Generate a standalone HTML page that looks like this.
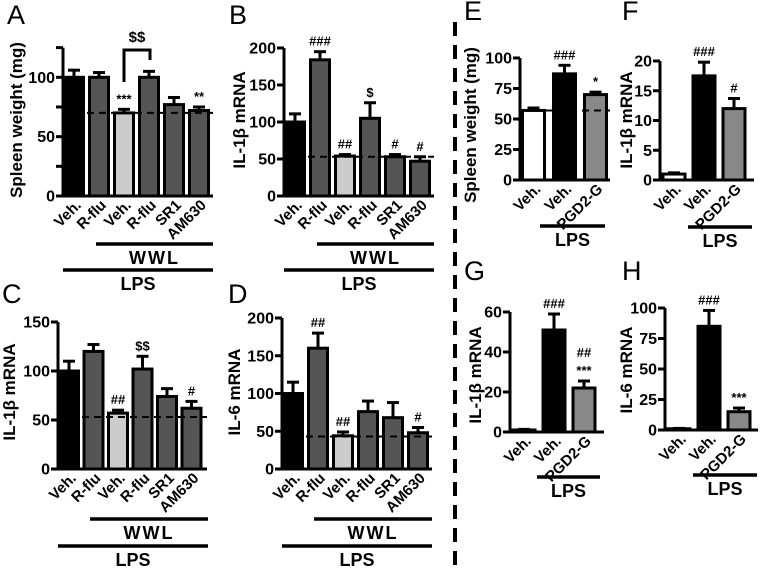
<!DOCTYPE html>
<html><head><meta charset="utf-8"><style>
html,body{margin:0;padding:0;background:#fff;}
svg{display:block;}
svg text{font-family:"Liberation Sans",Arial,sans-serif;}
.b{font-weight:bold;}
</style></head><body>
<svg id="fig" width="765" height="568" viewBox="0 0 765 568" xmlns="http://www.w3.org/2000/svg">
<line x1="455" y1="22" x2="455" y2="568" stroke="#000" stroke-width="4" stroke-dasharray="14,9"/>
</svg>
<script>
// ---- data ----
const abcdCategories = ["Veh.", "R-flu", "Veh.", "R-flu", "SR1", "AM630"];
const efghCategories = ["Veh.", "Veh.", "PGD2-G"];
const aMeans = [100, 100, 70, 100, 77, 72];
const aErrors = [6, 4, 3, 5, 6, 3];
const aTicks = [0, 50, 100];
const aMinorTicks = [25, 75, 125];
const aNotes = ["", "", "***", "", "", "**"];
const bMeans = [100, 184, 54, 105, 53, 47];
const bErrors = [11, 11, 2, 21, 3, 6];
const bTicks = [0, 50, 100, 150, 200];
const bNotes = ["", "###", "##", "$", "#", "#"];
const cMeans = [100, 120, 57, 102, 74, 62];
const cErrors = [10, 7, 3, 13, 8, 7];
const cTicks = [0, 50, 100, 150];
const cNotes = ["", "", "##", "$$", "", "#"];
const dMeans = [100, 160, 44, 76, 68, 48];
const dErrors = [15, 20, 5, 14, 20, 7];
const dTicks = [0, 50, 100, 150, 200];
const dNotes = ["", "##", "##", "", "", "#"];
const eMeans = [57, 87, 70];
const eErrors = [2, 7, 2];
const eTicks = [0, 25, 50, 75, 100];
const eNotes = ["", "###", "*"];
const fMeans = [1, 17.5, 12];
const fErrors = [0.2, 2.3, 1.7];
const fTicks = [0, 5, 10, 15, 20];
const fNotes = ["", "###", "#"];
const gMeans = [1, 51, 22];
const gErrors = [0.3, 8, 3.5];
const gTicks = [0, 20, 40, 60];
const gNotes = ["", "###", "##\n***"];
const hMeans = [1, 85, 15];
const hErrors = [0.3, 13, 3];
const hTicks = [0, 25, 50, 75, 100];
const hNotes = ["", "###", "***"];

const svg = document.getElementById('fig');
const NS = 'http://www.w3.org/2000/svg';
const FONT = '"Liberation Sans", Arial, sans-serif';
function mk(tag, attrs, parent) {
  const el = document.createElementNS(NS, tag);
  for (const k in attrs) el.setAttribute(k, attrs[k]);
  if (tag === 'text') el.setAttribute('font-family', FONT);
  (parent || svg).appendChild(el);
  return el;
}
const darkFill = ['#000', '#555', '#ccc', '#555', '#555', '#555'];
const efFill = ['#fff', '#000', '#888'];

function panel(p) {
  const g = mk('g', {});
  
  
  const y = v => p.y0 - (v / p.max) * (p.y0 - p.yTop);
  const L = mk('text', {x: p.lx, y: p.ly, 'font-size': 27}, g);
  L.textContent = p.id.toUpperCase();
  
  
  const yl = mk('text', {x: p.ylx, y: p.yly, 'font-size': 17, 'font-weight': 'bold', 'text-anchor': 'middle', transform: `rotate(-90 ${p.ylx} ${p.yly})`}, g);
  yl.textContent = p.ylabel;
  
  
  p.means.forEach((m, i) => {
    const left = p.x0 + p.off + i * p.pitch;
    const cx = left + p.bw / 2;
    const top = y(m);
    const et = y(m + p.errs[i]);
    const el = mk('line', {x1: cx, y1: top, x2: cx, y2: et, stroke: '#000', 'stroke-width': 3}, g);
    
    
    mk('line', {x1: cx - 6, y1: et, x2: cx + 6, y2: et, stroke: '#000', 'stroke-width': 3}, g);
    const r = mk('rect', {x: left, y: top, width: p.bw, height: p.y0 - top, fill: p.fills[i], stroke: '#000', 'stroke-width': 3}, g);
    
    
    const xl = mk('text', {x: cx + 8, y: p.y0 + 10, 'font-size': 15, 'font-weight': 'bold', 'text-anchor': 'end', transform: `rotate(-45 ${cx + 8} ${p.y0 + 10})`}, g);
    xl.textContent = p.cats[i];
    
    
    if (p.notes[i]) {
      const lines = p.notes[i].split('\n');
      lines.forEach((s, k) => {
        const t = mk('text', {x: cx, y: et - 6 - (lines.length - 1 - k) * 18, 'font-size': 13, 'font-weight': 'bold', 'text-anchor': 'middle'}, g);
        t.textContent = s;
        
        
      });
    }
  });
  if (p.dash !== undefined) {
    const d = mk('line', {x1: p.x0 + (p.dashStart || 0), y1: y(p.dash), x2: p.xEnd, y2: y(p.dash), stroke: '#000', 'stroke-width': 2, 'stroke-dasharray': '7,5'}, g);
    
    
  }
  const ya = mk('line', {x1: p.x0, y1: p.yAxisTop !== undefined ? y(p.yAxisTop) : p.yTop, x2: p.x0, y2: p.y0 + 1.5, stroke: '#000', 'stroke-width': 3}, g);
  
  
  const xa = mk('line', {x1: p.x0 - 1.5, y1: p.y0, x2: p.xEnd, y2: p.y0, stroke: '#000', 'stroke-width': 3}, g);
  
  
  p.ticks.forEach(v => {
    mk('line', {x1: p.x0 - 7, y1: y(v), x2: p.x0, y2: y(v), stroke: '#000', 'stroke-width': 3}, g);
    const t = mk('text', {x: p.x0 - 8, y: y(v) + 5.5, 'font-size': 16, 'font-weight': 'bold', 'text-anchor': 'end'}, g);
    t.textContent = v;
    
    
  });
  (p.minor || []).forEach(v => {
    mk('line', {x1: p.x0 - 7, y1: y(v), x2: p.x0, y2: y(v), stroke: '#000', 'stroke-width': 3}, g);
  });
  p.groups.forEach(gr => {
    const l = mk('line', {x1: gr.x1, y1: gr.y, x2: gr.x2, y2: gr.y, stroke: '#000', 'stroke-width': 3.5}, g);
    
    
    const t = mk('text', {x: (gr.x1 + gr.x2) / 2, y: gr.y + 20, 'font-size': 18, 'font-weight': 'bold', 'text-anchor': 'middle', 'letter-spacing': gr.label === 'WWL' ? 2 : 0}, g);
    t.textContent = gr.label;
    
    
  });
  return {g, y};
}

function sixGroups(x0) {
  return [{x1: x0 + 33, x2: x0 + 150, y: 244, label: 'WWL'}, {x1: x0, x2: x0 + 150, y: 270, label: 'LPS'}];
}
function sixGroupsLow(x0) {
  return [{x1: x0 + 32, x2: x0 + 150, y: 519, label: 'WWL'}, {x1: x0, x2: x0 + 150, y: 546, label: 'LPS'}];
}

const A = panel({id: 'a', lx: 7, ly: 24, ylabel: 'Spleen weight (mg)', ylx: 22, yly: 120, x0: 63, y0: 196, yTop: 77.3, max: 100, yAxisTop: 125,
  xEnd: 213, off: 1.5, pitch: 25, bw: 19, means: aMeans, errs: aErrors, fills: darkFill, cats: abcdCategories, notes: aNotes,
  ticks: aTicks, minor: aMinorTicks, dash: 70, groups: sixGroups(63)});
const br = mk('path', {d: 'M 124 82 L 124 50 L 150 50 L 150 60', fill: 'none', stroke: '#000', 'stroke-width': 3}, A.g);


const brt = mk('text', {x: 137, y: 42, 'font-size': 15, 'font-weight': 'bold', 'text-anchor': 'middle'}, A.g);
brt.textContent = '$$';



panel({id: 'b', lx: 229, ly: 24, ylabel: 'IL-1β mRNA', ylx: 245, yly: 120, x0: 284, y0: 196, yTop: 48, max: 200,
  xEnd: 434, off: 1.5, pitch: 25, bw: 19, means: bMeans, errs: bErrors, fills: darkFill, cats: abcdCategories, notes: bNotes,
  ticks: bTicks, dash: 53, groups: sixGroups(284)});
panel({id: 'c', lx: 2, ly: 303, ylabel: 'IL-1β mRNA', ylx: 15, yly: 392, x0: 58, y0: 469, yTop: 322, max: 150,
  xEnd: 207, off: 1.5, pitch: 24.5, bw: 19, means: cMeans, errs: cErrors, fills: darkFill, cats: abcdCategories, notes: cNotes,
  ticks: cTicks, dash: 53, groups: sixGroupsLow(58)});
panel({id: 'd', lx: 228, ly: 303, ylabel: 'IL-6 mRNA', ylx: 240, yly: 392, x0: 282, y0: 469, yTop: 318, max: 200,
  xEnd: 432, off: 1.5, pitch: 25, bw: 19, means: dMeans, errs: dErrors, fills: darkFill, cats: abcdCategories, notes: dNotes,
  ticks: dTicks, dash: 43, groups: sixGroupsLow(282)});

panel({id: 'e', lx: 464, ly: 20, ylabel: 'Spleen weight (mg)', ylx: 476, yly: 125, x0: 520, y0: 180, yTop: 58, max: 100,
  xEnd: 610, off: 2.5, pitch: 31, bw: 22, means: eMeans, errs: eErrors, fills: efFill, cats: efghCategories, notes: eNotes,
  ticks: eTicks, dash: 57, dashStart: 2, groups: [{x1: 540, x2: 605, y: 226, label: 'LPS'}]});
panel({id: 'f', lx: 622, ly: 20, ylabel: 'IL-1β mRNA', ylx: 632, yly: 120, x0: 660, y0: 180, yTop: 61, max: 20,
  xEnd: 754, off: 3, pitch: 30, bw: 22, means: fMeans, errs: fErrors, fills: efFill, cats: efghCategories, notes: fNotes,
  ticks: fTicks, groups: [{x1: 688, x2: 752, y: 227, label: 'LPS'}]});
panel({id: 'g', lx: 464, ly: 280, ylabel: 'IL-1β mRNA', ylx: 481, yly: 375, x0: 510, y0: 432, yTop: 312, max: 60,
  xEnd: 604, off: 3, pitch: 30, bw: 22, means: gMeans, errs: gErrors, fills: efFill, cats: efghCategories, notes: gNotes,
  ticks: gTicks, groups: [{x1: 537, x2: 600, y: 477, label: 'LPS'}]});
panel({id: 'h', lx: 622, ly: 280, ylabel: 'IL-6 mRNA', ylx: 632, yly: 370, x0: 665, y0: 430, yTop: 308, max: 100,
  xEnd: 758, off: 3, pitch: 30, bw: 22, means: hMeans, errs: hErrors, fills: efFill, cats: efghCategories, notes: hNotes,
  ticks: hTicks, groups: [{x1: 693, x2: 757, y: 475, label: 'LPS'}]});
</script>
</body></html>
